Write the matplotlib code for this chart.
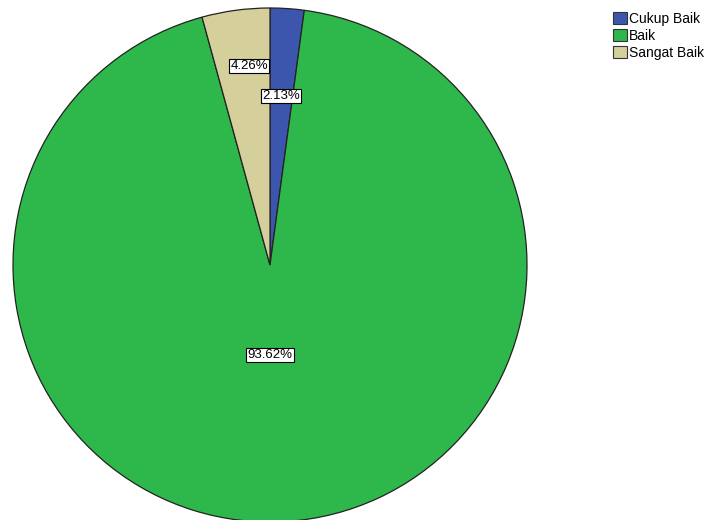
import matplotlib
matplotlib.use("Agg")
import matplotlib.pyplot as plt
import numpy as np
from matplotlib.patches import Patch

categories = ["Cukup Baik", "Baik", "Sangat Baik"]
values = [2.13, 93.62, 4.26]
colors = ["#3d56ad", "#2eb84b", "#d5cf9b"]
label_dist = [0.66, 0.35, 0.78]
label_shift = [0.0, -3.8, -1.7]

plt.rcParams['font.family'] = ['Liberation Sans', 'DejaVu Sans']

W, H = 707, 520
fig = plt.figure(figsize=(W/100, H/100), dpi=100)
cx, cy, R = 270, 265, 257
ax = fig.add_axes([(cx-R)/W, (H-cy-R)/H, 2*R/W, 2*R/H])
wedges, texts = ax.pie(values, colors=colors, startangle=90, counterclock=False,
                       wedgeprops=dict(edgecolor="#222222", linewidth=0.9), radius=1.0)
ax.set_xlim(-1, 1); ax.set_ylim(-1, 1)
ax.set_aspect('equal')
ax.axis('off')

for w, v, d, s in zip(wedges, values, label_dist, label_shift):
    ang = np.deg2rad((w.theta1 + w.theta2) / 2 + s)
    ax.text(d*np.cos(ang), d*np.sin(ang), f"{v:.2f}%", ha='center', va='center', fontsize=9.5,
            bbox=dict(boxstyle='square,pad=0.08', fc='white', ec='black', lw=0.8))

handles = [Patch(facecolor=c, edgecolor='#333333', linewidth=0.8) for c in colors]
fig.legend(handles, categories, loc='upper left', bbox_to_anchor=(613/W, 1-12/H),
           frameon=False, fontsize=10, handlelength=1.0, handleheight=0.95,
           handletextpad=0.15, labelspacing=0.2, borderpad=0, borderaxespad=0)

fig.savefig("out.png", dpi=100)
